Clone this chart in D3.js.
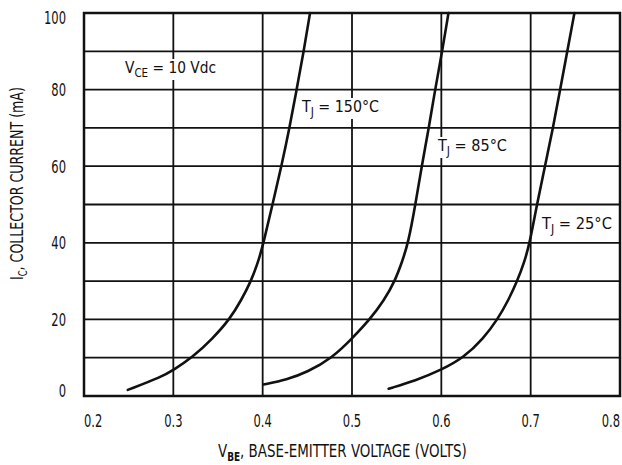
<!DOCTYPE html>
<html>
<head>
<meta charset="utf-8">
<script src="https://cdn.jsdelivr.net/npm/d3@7"></script>
<style>
  body { margin: 0; background: #fff; }
  svg { display: block; }
  text { font-family: "DejaVu Sans Condensed", "DejaVu Sans", sans-serif; fill: #111; }
</style>
</head>
<body>
<svg id="chart" width="622" height="465"></svg>
<script>
// tick values
const xTicks = [0.2, 0.3, 0.4, 0.5, 0.6, 0.7, 0.8];
const yTicks = [0, 20, 40, 60, 80, 100];
const yGrid = [0, 10, 20, 30, 40, 50, 60, 70, 80, 90, 100];

// [VBE (V), IC (mA)] for each junction temperature
const curve150 = [[0.249, 1.6], [0.287, 5.0], [0.300, 6.8], [0.321, 10], [0.344, 15], [0.363, 20],
  [0.376, 25], [0.387, 30], [0.395, 35], [0.401, 40], [0.411, 50], [0.421, 60], [0.430, 70],
  [0.438, 80], [0.446, 90], [0.453, 100]];
const curve85 = [[0.401, 3.0], [0.427, 4.3], [0.450, 6.2], [0.478, 10], [0.500, 15], [0.520, 20],
  [0.536, 25], [0.548, 30], [0.556, 35], [0.563, 40], [0.571, 50], [0.578, 60], [0.586, 70],
  [0.593, 80], [0.601, 90], [0.608, 100]];
const curve25 = [[0.541, 1.9], [0.571, 4.0], [0.600, 6.8], [0.625, 10], [0.647, 15], [0.663, 20],
  [0.675, 25], [0.685, 30], [0.693, 35], [0.699, 40], [0.707, 50], [0.716, 60], [0.725, 70],
  [0.733, 80], [0.741, 90], [0.749, 100]];

const svg = d3.select('#chart');
const plotLeft = 84, plotRight = 620, plotTop = 13, plotBottom = 396;

const x = d3.scaleLinear().domain([0.2, 0.8]).range([plotLeft, plotRight]);
const y = d3.scaleLinear().domain([0, 100]).range([plotBottom, plotTop]);

// squeeze a group horizontally around ax so its text takes the given width
function squeeze(g, ax, width) {
  const w = g.node().getBBox().width;
  const s = width / w;
  g.attr('transform', `translate(${ax},0) scale(${s},1) translate(${-ax},0)`);
  return s;
}

// grid
const grid = svg.append('g').attr('stroke', '#111').attr('stroke-width', 1.8);
grid.selectAll('line.v').data(xTicks).join('line')
  .attr('x1', d => x(d)).attr('x2', d => x(d))
  .attr('y1', plotTop).attr('y2', plotBottom);
grid.selectAll('line.h').data(yGrid).join('line')
  .attr('x1', plotLeft).attr('x2', plotRight)
  .attr('y1', d => y(d)).attr('y2', d => y(d));
svg.append('rect')
  .attr('x', plotLeft).attr('y', plotTop)
  .attr('width', plotRight - plotLeft).attr('height', plotBottom - plotTop)
  .attr('fill', 'none').attr('stroke', '#111').attr('stroke-width', 2.5);

// narrow digits: measure one label to get the squeeze factor
const probe = svg.append('text').attr('font-size', 18).text('100');
const tickScale = 22 / probe.node().getComputedTextLength();
probe.remove();

// x tick labels (end labels pulled inward as in the print)
svg.append('g').selectAll('text').data(xTicks).join('text')
  .attr('x', d => x(d))
  .attr('y', 427)
  .attr('font-size', 18)
  .attr('text-anchor', (d, i) => i === 0 ? 'start' : i === xTicks.length - 1 ? 'end' : 'middle')
  .attr('transform', d => `translate(${x(d)},0) scale(${tickScale},1) translate(${-x(d)},0)`)
  .text(d => d.toFixed(1));

// y tick labels
svg.append('g').selectAll('text').data(yTicks).join('text')
  .attr('x', 66)
  .attr('y', d => d === 100 ? y(d) + 5 : d === 0 ? y(d) - 5 : y(d))
  .attr('dy', '0.36em')
  .attr('font-size', 18)
  .attr('text-anchor', 'end')
  .attr('transform', `translate(66,0) scale(${tickScale},1) translate(-66,0)`)
  .text(d => d);

// curves
const line = d3.line().x(d => x(d[0])).y(d => y(d[1])).curve(d3.curveBasis);
[curve150, curve85, curve25].forEach(c => {
  svg.append('path')
    .attr('d', line(c))
    .attr('fill', 'none')
    .attr('stroke', '#111')
    .attr('stroke-width', 2.6)
    .attr('stroke-linecap', 'round');
});

// annotation labels with white knockouts
function label(px, py, width, main, sub, rest) {
  const g = svg.append('g');
  const t = g.append('text').attr('x', px).attr('y', py).attr('font-size', 16);
  t.append('tspan').text(main);
  t.append('tspan').attr('font-size', 12).attr('dy', 4).text(sub);
  t.append('tspan').attr('dy', -4).text(rest);
  const b = t.node().getBBox();
  g.insert('rect', 'text')
    .attr('x', b.x - 2).attr('y', b.y + 1)
    .attr('width', b.width + 4).attr('height', b.height - 1)
    .attr('fill', '#fff');
  squeeze(g, px, width + 4);
}
label(125, 73, 91, 'V', 'CE', ' = 10 Vdc');
label(302, 112, 78, 'T', 'J', ' = 150°C');
label(438, 151, 70, 'T', 'J', ' = 85°C');
label(542, 229, 71, 'T', 'J', ' = 25°C');

// axis titles
const xg = svg.append('g');
const xt = xg.append('text').attr('x', 218).attr('y', 457).attr('font-size', 18);
xt.append('tspan').text('V');
xt.append('tspan').attr('font-size', 12).attr('dy', 4).attr('font-weight', 'bold').text('BE');
xt.append('tspan').attr('dy', -4).text(', BASE-EMITTER VOLTAGE (VOLTS)');
squeeze(xg, 218, 249);

const yOuter = svg.append('g').attr('transform', 'translate(23,280) rotate(-90)');
const yg = yOuter.append('g');
const yt = yg.append('text').attr('x', 0).attr('y', 0).attr('font-size', 18);
yt.append('tspan').text('I');
yt.append('tspan').attr('font-size', 12).attr('dy', 4).text('C');
yt.append('tspan').attr('dy', -4).text(', COLLECTOR CURRENT (mA)');
squeeze(yg, 0, 193);
</script>
</body>
</html>
